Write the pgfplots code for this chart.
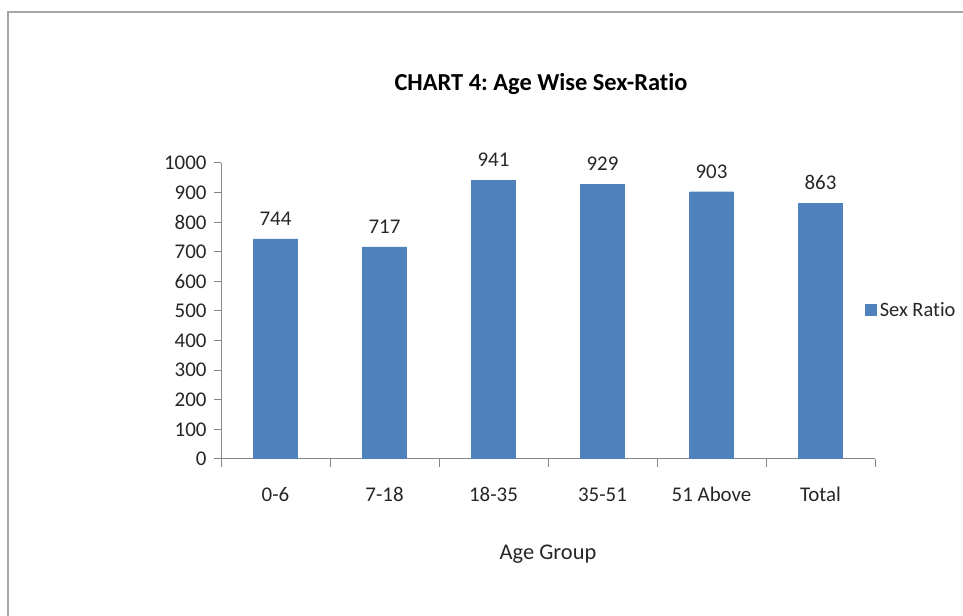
\documentclass[border=0pt]{standalone}
\usepackage{fontspec}
\setmainfont{Carlito}[Ligatures=NoCommon]
\usepackage{pgfplots}
\pgfplotsset{compat=1.18}
\definecolor{barblue}{HTML}{4F81BD}
\definecolor{axisgray}{HTML}{868686}
\frenchspacing
\begin{document}
\begin{tikzpicture}[x=1bp,y=1bp]
\path[use as bounding box] (0,0) rectangle (963,616);
\begin{scope}
\clip (0,0) rectangle (963,616);
\draw[gray!70, line width=1.2bp] (8,-10) rectangle (990,604);
\end{scope}
\node[font=\bfseries\fontsize{24.5}{29}\selectfont] at (541,532) {CHART 4: Age Wise Sex-Ratio};
\node[font=\fontsize{22.5}{27}\selectfont, text=black!85] at (548,62) {Age Group};
\begin{axis}[
  at={(221bp,157bp)}, anchor=south west,
  scale only axis, width=654bp, height=296bp,
  ybar, bar width=44bp,
  ymin=0, ymax=1000, ytick={0,100,...,1000},
  xmin=-0.5, xmax=5.5, xtick={0,...,5},
  xticklabels={0-6,7-18,18-35,35-51,51 Above,Total},
  minor xtick={-0.5,0.5,...,5.5},
  major x tick style={draw=none},
  axis lines*=left,
  axis line style={axisgray, line width=1bp},
  tick style={axisgray, line width=1bp},
  tick align=outside,
  major tick length=7bp, minor tick length=8bp,
  /pgf/number format/assume math mode=true,
  /pgf/number format/1000 sep={},
  ticklabel style={font=\fontsize{21}{25}\selectfont, text=black!85},
  x tick label style={yshift=-17bp, text height=15bp, text depth=4bp, anchor=north},
  y tick label style={xshift=-4bp},
  nodes near coords,
  every node near coord/.append style={font=\fontsize{21}{25}\selectfont, text=black!85, yshift=10bp},
  legend style={at={(rel axis cs:0.985,0.503)}, anchor=west, draw=none, fill=none,
     font=\fontsize{20.5}{24}\selectfont, inner sep=0pt, text=black!85,
     nodes={inner xsep=3bp}},
  legend image code/.code={\fill[barblue] (0bp,-5.5bp) rectangle (11bp,5.5bp);},
]
\addplot[fill=barblue, draw=barblue] coordinates {(0,744) (1,717) (2,941) (3,929) (4,903) (5,863)};
\addlegendentry{Sex Ratio}
\end{axis}
\end{tikzpicture}
\end{document}
